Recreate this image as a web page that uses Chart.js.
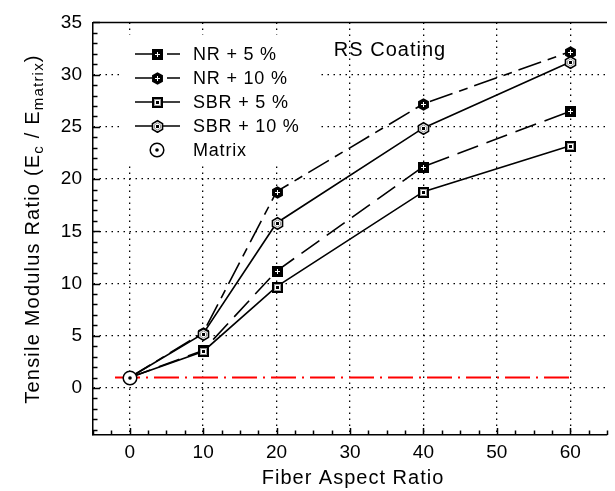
<!DOCTYPE html>
<html lang="en">
<head>
<meta charset="UTF-8">
<title>Tensile Modulus Ratio - RS Coating</title>
<script src="https://cdn.jsdelivr.net/npm/chart.js"></script>
<style>
    html, body { margin: 0; padding: 0; background: #fff; }
    #wrap { width: 615px; height: 491px; }
</style>
</head>
<body>
<div id="wrap"><canvas id="modulusChart" width="615" height="491"></canvas></div>
<script>
    // Data
    const aspectRatios = [0, 10, 20, 40, 60];
    const nr5 = [1, 3.6, 11.2, 21.2, 26.5];
    const nr10 = [1, 5.3, 18.8, 27.2, 32.2];
    const sbr5 = [1, 3.5, 9.7, 18.8, 23.2];
    const sbr10 = [1, 5.2, 15.8, 24.9, 31.2];
    const matrixX = [0];
    const matrixY = [1];
    const matrixLineX = [-2, 60];
    const xTicks = [0, 10, 20, 30, 40, 50, 60];
    const yTicks = [0, 5, 10, 15, 20, 25, 30, 35];
    const legendLabels = ['NR + 5 %', 'NR + 10 %', 'SBR + 5 %', 'SBR + 10 %', 'Matrix'];

    const FONT = '"Liberation Sans", Arial, Helvetica, sans-serif';

    // Marker images
    function hexPath(ctx, cx, cy, r) {
        ctx.beginPath();
        for (let i = 0; i < 6; i++) {
            const a = (-90 + i * 60) * Math.PI / 180;
            const px = cx + r * Math.cos(a), py = cy + r * Math.sin(a);
            if (i === 0) ctx.moveTo(px, py); else ctx.lineTo(px, py);
        }
        ctx.closePath();
    }

    function makeMarker(kind) {
        const c = document.createElement('canvas');
        const s = kind === 'matrix' ? 18 : 14;
        c.width = s; c.height = s;
        const g = c.getContext('2d');
        const m = s / 2;
        g.lineWidth = 1.5;
        g.strokeStyle = '#000';
        if (kind === 'sqFilled') {
            g.fillStyle = '#000';
            g.fillRect(m - 5, m - 5, 11, 11);
            g.fillStyle = '#fff';
            g.fillRect(m, m - 2, 1, 5);
            g.fillRect(m - 2, m, 5, 1);
        } else if (kind === 'hexFilled') {
            hexPath(g, m + 0.5, m + 0.5, 6.3);
            g.fillStyle = '#000';
            g.fill();
            g.fillStyle = '#fff';
            g.fillRect(m, m - 2, 1, 5);
            g.fillRect(m - 2, m, 5, 1);
        } else if (kind === 'sqOpen') {
            g.fillStyle = '#000';
            g.fillRect(m - 5, m - 5, 11, 11);
            g.fillStyle = '#fff';
            g.fillRect(m - 3, m - 3, 7, 7);
            g.fillStyle = '#999';
            g.fillRect(m - 3, m - 3, 7, 1);
            g.fillRect(m - 3, m + 3, 7, 1);
            g.fillRect(m - 3, m - 3, 1, 7);
            g.fillRect(m + 3, m - 3, 1, 7);
            g.fillStyle = '#000';
            g.fillRect(m - 1, m - 1, 3, 3);
        } else if (kind === 'hexOpen') {
            hexPath(g, m + 0.5, m + 0.5, 5.8);
            g.fillStyle = '#fff';
            g.fill();
            g.lineWidth = 1.6;
            g.stroke();
            g.lineWidth = 0.9;
            g.strokeStyle = '#888';
            hexPath(g, m + 0.5, m + 0.5, 3.5);
            g.stroke();
            g.fillStyle = '#000';
            g.fillRect(m - 1, m - 1, 3, 3);
        } else if (kind === 'matrix') {
            g.lineWidth = 1.5;
            g.fillStyle = '#fff';
            g.beginPath(); g.arc(m, m, 6.8, 0, Math.PI * 2); g.fill(); g.stroke();
            g.fillStyle = '#000';
            g.beginPath(); g.arc(m, m, 1.8, 0, Math.PI * 2); g.fill();
        }
        return c;
    }

    const markers = {
        nr5: makeMarker('sqFilled'),
        nr10: makeMarker('hexFilled'),
        sbr5: makeMarker('sqOpen'),
        sbr10: makeMarker('hexOpen'),
        matrix: makeMarker('matrix')
    };

    const toPoints = (xs, ys) => xs.map((x, i) => ({ x: x, y: ys[i] }));
    const hideFirst = ctx => ctx.dataIndex === 0 ? 0 : 5;

    function seriesDataset(label, values, marker, dash) {
        return {
            label: label,
            data: toPoints(aspectRatios, values),
            borderColor: '#000',
            borderWidth: 1.6,
            borderDash: dash,
            pointStyle: marker,
            pointRadius: hideFirst,
            pointHoverRadius: hideFirst,
            fill: false,
            tension: 0
        };
    }

    // White legend box over the grid, crisp marker images
    const legendBoxPlugin = {
        id: 'legendBox',
        beforeDatasetsDraw(chart) {
            const ctx = chart.ctx;
            ctx.save();
            ctx.fillStyle = '#fff';
            ctx.fillRect(123, 35, 195, 128);
            ctx.restore();
            ctx.imageSmoothingEnabled = false;
        },
        afterDatasetsDraw(chart) {
            chart.ctx.imageSmoothingEnabled = true;
        }
    };

    function spacedText(ctx, text, x, y, spacing) {
        ctx.letterSpacing = spacing + 'px';
        ctx.fillText(text, x, y);
        ctx.letterSpacing = '0px';
    }

    // Inward ticks, top frame line, axis titles and legend
    const decorPlugin = {
        id: 'decor',
        afterDraw(chart) {
            const { ctx, chartArea: a, scales } = chart;
            const xs = scales.x, ys = scales.y;
            ctx.save();
            ctx.strokeStyle = '#000';
            ctx.lineWidth = 1.5;
            ctx.beginPath();
            ctx.moveTo(a.left, a.top);
            ctx.lineTo(a.right, a.top);
            ctx.stroke();

            for (let v = -5; v <= 65; v += 2.5) {
                const px = Math.round(xs.getPixelForValue(v)) + 0.5;
                const len = v % 10 === 0 ? 7 : 4.5;
                ctx.beginPath();
                ctx.moveTo(px, a.bottom);
                ctx.lineTo(px, a.bottom - len);
                ctx.stroke();
            }
            for (let v = -4; v <= 35; v += 1) {
                const py = Math.round(ys.getPixelForValue(v)) + 0.5;
                const len = v % 5 === 0 ? 7 : 4.5;
                ctx.beginPath();
                ctx.moveTo(a.left, py);
                ctx.lineTo(a.left + len, py);
                ctx.stroke();
            }

            // x title
            ctx.fillStyle = '#000';
            ctx.font = '20px ' + FONT;
            ctx.textAlign = 'center';
            ctx.textBaseline = 'middle';
            spacedText(ctx, 'Fiber Aspect Ratio', 353, 478, 1);

            // y title with subscripts
            const parts = [
                { t: 'Tensile Modulus Ratio (E', sub: false },
                { t: 'c', sub: true },
                { t: ' / E', sub: false },
                { t: 'matrix', sub: true },
                { t: ')', sub: false }
            ];
            const bigFont = '20px ' + FONT, smallFont = '15px ' + FONT;
            let total = 0;
            parts.forEach(p => {
                ctx.font = p.sub ? smallFont : bigFont;
                ctx.letterSpacing = '1.2px';
                p.w = ctx.measureText(p.t).width;
                total += p.w;
            });
            ctx.translate(32, 229);
            ctx.rotate(-Math.PI / 2);
            ctx.textAlign = 'left';
            ctx.textBaseline = 'alphabetic';
            let cx = -total / 2;
            parts.forEach(p => {
                ctx.font = p.sub ? smallFont : bigFont;
                ctx.letterSpacing = '1.2px';
                ctx.fillText(p.t, cx, p.sub ? 11 : 7);
                cx += p.w;
            });
            ctx.letterSpacing = '0px';
            ctx.restore();

            // RS Coating label
            ctx.save();
            ctx.fillStyle = '#000';
            ctx.font = '20px ' + FONT;
            ctx.textAlign = 'center';
            ctx.textBaseline = 'middle';
            spacedText(ctx, 'RS Coating', 390, 50, 1);

            // legend
            const rowY = [54, 78, 102, 126, 150];
            const legendMarkers = [markers.nr5, markers.nr10, markers.sbr5, markers.sbr10, markers.matrix];
            ctx.strokeStyle = '#000';
            ctx.lineWidth = 1.6;
            ctx.imageSmoothingEnabled = false;
            rowY.forEach((y, i) => {
                if (i < 2) {
                    ctx.beginPath();
                    ctx.moveTo(135, y); ctx.lineTo(152, y);
                    ctx.moveTo(167, y); ctx.lineTo(180, y);
                    ctx.stroke();
                } else if (i < 4) {
                    ctx.beginPath();
                    ctx.moveTo(135, y); ctx.lineTo(180, y);
                    ctx.stroke();
                }
                const mk = legendMarkers[i];
                ctx.drawImage(mk, 157 - mk.width / 2, y - mk.height / 2);
                ctx.font = '18px ' + FONT;
                ctx.textAlign = 'left';
                spacedText(ctx, legendLabels[i], 193, y + 1, 0.8);
            });
            ctx.restore();
        }
    };

    const dotGrid = {
        color: ctx => (ctx.tick && ctx.tick.value === 35) ? 'rgba(0,0,0,0)' : '#000',
        lineWidth: 1.3,
        drawTicks: false
    };

    new Chart(document.getElementById('modulusChart'), {
        type: 'line',
        data: {
            datasets: [
                {
                    label: 'Matrix',
                    data: toPoints(matrixX, matrixY),
                    showLine: false,
                    pointStyle: markers.matrix,
                    pointRadius: 7,
                    pointHoverRadius: 7
                },
                seriesDataset('SBR + 10 %', sbr10, markers.sbr10, []),
                seriesDataset('SBR + 5 %', sbr5, markers.sbr5, []),
                seriesDataset('NR + 10 %', nr10, markers.nr10, [24, 7, 9, 7]),
                seriesDataset('NR + 5 %', nr5, markers.nr5, [22, 9]),
                {
                    label: 'Matrix line',
                    data: matrixLineX.map(x => ({ x: x, y: matrixY[0] })),
                    borderColor: '#ff0000',
                    borderWidth: 2,
                    borderDash: [25, 6, 2, 6],
                    pointRadius: 0,
                    fill: false
                }
            ]
        },
        options: {
            responsive: false,
            animation: false,
            events: [],
            layout: { padding: { top: 16, right: 0, left: 0, bottom: 0 } },
            plugins: {
                legend: { display: false },
                tooltip: { enabled: false }
            },
            scales: {
                x: {
                    type: 'linear',
                    min: -5,
                    max: 65,
                    afterBuildTicks: s => { s.ticks = xTicks.map(v => ({ value: v })); },
                    afterFit: s => { s.height = 56; },
                    grid: dotGrid,
                    border: { display: true, color: '#000', width: 1.5, dash: [1.5, 4.5] },
                    ticks: { color: '#000', font: { family: FONT, size: 19 }, padding: 6, maxRotation: 0 }
                },
                y: {
                    type: 'linear',
                    min: -4.5,
                    max: 35,
                    afterBuildTicks: s => { s.ticks = yTicks.map(v => ({ value: v })); },
                    afterFit: s => { s.width = 93; },
                    grid: dotGrid,
                    border: { display: true, color: '#000', width: 1.5, dash: [1.5, 4.5] },
                    ticks: { color: '#000', font: { family: FONT, size: 19 }, padding: 11 }
                }
            }
        },
        plugins: [legendBoxPlugin, decorPlugin]
    });
</script>
</body>
</html>
